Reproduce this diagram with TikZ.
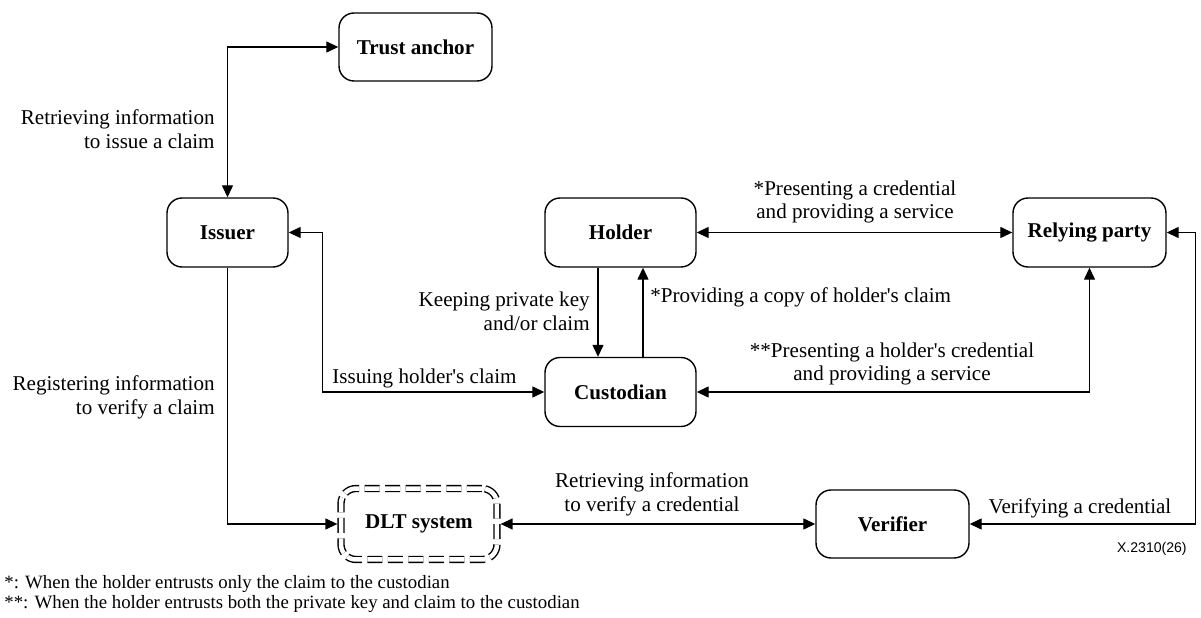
\documentclass[tikz,border=0pt]{standalone}
\usepackage{fontspec}
\setmainfont{Liberation Serif}
\newfontfamily\figsans{Liberation Sans}
\usetikzlibrary{arrows.meta}

\begin{document}
\begin{tikzpicture}[x=0.02cm, y=-0.02cm,
  txt/.style={inner sep=0pt, align=center, font=\fontsize{12pt}{13.5pt}\selectfont},
  note/.style={inner sep=0pt, anchor=west, font=\fontsize{10.7pt}{12pt}\selectfont},
  box/.style={draw, rounded corners=0.3cm, line width=0.8pt, inner sep=2pt,
    minimum height=1.38cm, font=\fontsize{12pt}{14pt}\selectfont\bfseries},
  tip/.tip={Triangle[length=0.24cm, width=0.22cm]},
  biarr/.style={line width=0.75pt, tip-tip},
  arr/.style={line width=0.75pt, -tip}]

\useasboundingbox (0,0) rectangle (1201,618);

% entities
\node[box, minimum width=3.06cm, minimum height=1.36cm] (trust) at (415.5,47) {Trust anchor};
\node[box, minimum width=2.42cm] (issuer) at (227.5,232.5) {Issuer};
\node[box, minimum width=3.02cm] (holder) at (620.5,232.5) {Holder};
\node[box, minimum width=3.02cm] (custodian) at (620.5,392) {Custodian};
\node[box, minimum width=3.06cm] (relying) at (1089.5,232.5) {Relying party};
\node[box, minimum width=3.06cm, minimum height=1.36cm] (verifier) at (892.5,524) {Verifier};
\node[box, minimum width=3.12cm, minimum height=1.42cm, dash pattern=on 0.3cm off 0.11cm,
  double, double distance=0.09cm, outer sep=0.073cm] (dlt) at (419,524) {DLT system};

% connectors
\draw[biarr] (trust.west) -| (issuer.north);
\draw[biarr] (issuer.east) -- ++(34,0) |- (custodian.west);
\draw[arr] (issuer.south) |- (dlt.west);
\draw[biarr] (holder.east) -- (relying.west);
\draw[arr] ([xshift=-0.45cm]holder.south) -- ([xshift=-0.45cm]custodian.north);
\draw[arr] ([xshift=0.45cm]custodian.north) -- ([xshift=0.45cm]holder.south);
\draw[biarr] (custodian.east) -| (relying.south);
\draw[biarr] (dlt.east) -- (verifier.west);
\draw[biarr] (verifier.east) -- ++(226,0) |- (relying.east);

% connector labels
\node[txt, align=right, anchor=east] (l1) at (215,129) {Retrieving information\\to issue a claim};
\node[txt, align=right, anchor=east] (l2) at (215,397) {Registering information\\to verify a claim};
\node[txt, anchor=west] (l3) at (332,378) {Issuing holder\textquotesingle s claim};
\node[txt, align=right, anchor=east] (l4) at (590,311) {Keeping private key\\and/or claim};
\node[txt, anchor=west] (l5) at (650,297) {*Providing a copy of holder\textquotesingle s claim};
\node[txt] (l6) at (855,202) {*Presenting a credential\\and providing a service};
\node[txt] (l7) at (892,364) {**Presenting a holder\textquotesingle s credential\\and providing a service};
\node[txt] (l8) at (652,494) {Retrieving information\\to verify a credential};
\node[txt] (l9) at (1080,508) {Verifying a credential};

% figure number and notes
\node[inner sep=0pt, anchor=east, font=\figsans\fontsize{8pt}{9pt}\selectfont] (fig) at (1187,549) {X.2310(26)};
\node[note] (n1) at (4,584) {*: When the holder entrusts only the claim to the custodian};
\node[note] (n2) at (4,604) {**: When the holder entrusts both the private key and claim to the custodian};
\end{tikzpicture}
\end{document}
